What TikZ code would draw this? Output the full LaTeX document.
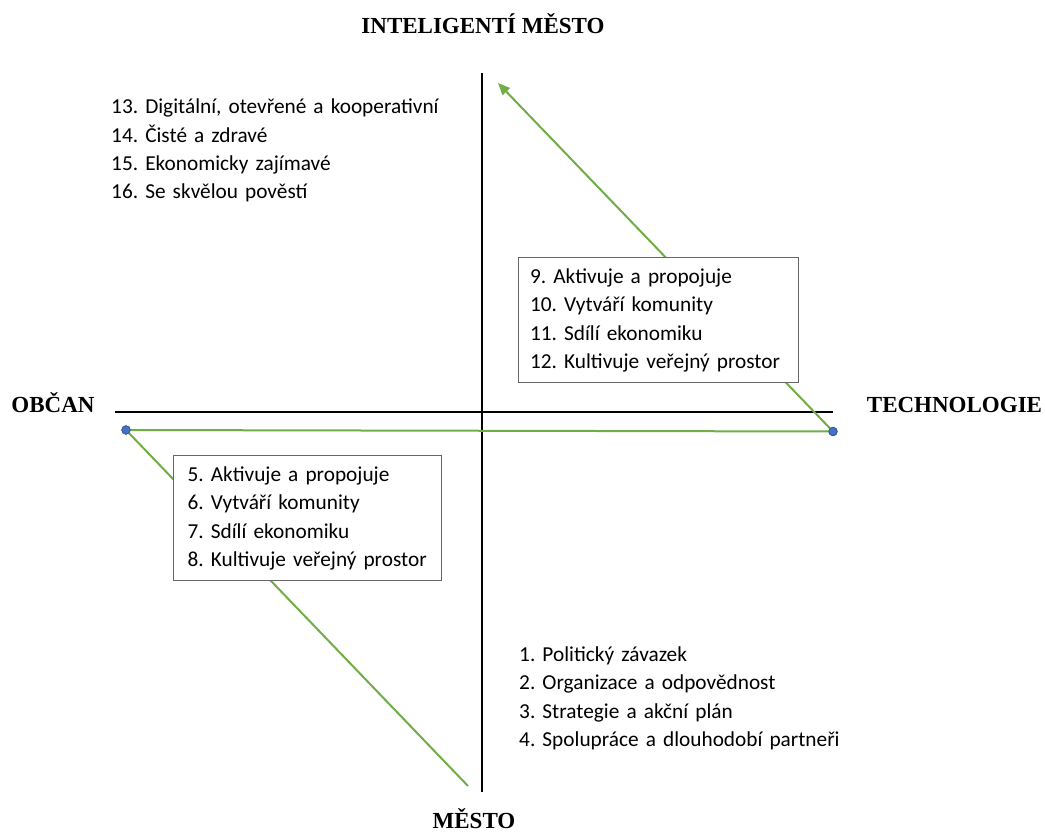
\documentclass[tikz,border=0pt]{standalone}
\usepackage{fontspec}
\setmainfont{Carlito}
\newfontfamily\axisfont{Liberation Serif}
\usetikzlibrary{arrows.meta}
\definecolor{flowgreen}{HTML}{70AD47}
\definecolor{dotblue}{HTML}{4472C4}
\definecolor{dotedge}{HTML}{2F528F}
\definecolor{boxgray}{HTML}{666666}
\frenchspacing

\begin{document}
\begin{tikzpicture}
    [x=1pt,y=-1pt,
    item/.style={font=\fontsize{21.3}{28.3}\selectfont,align=left,inner sep=0pt,anchor=base west},
    listbox/.style={item,draw=boxgray,fill=white,line width=1.2pt,inner ysep=6pt,anchor=north west},
    axislabel/.style={font=\axisfont\bfseries\fontsize{23}{28}\selectfont,inner sep=0pt,anchor=base},
    dot/.style={circle,fill=dotblue,draw=dotedge,line width=0.6pt,inner sep=0pt,minimum size=8.5pt},
    flow/.style={draw=flowgreen,line width=2pt}]
    \useasboundingbox (0,0) rectangle (1045,832);
    % axes
    \coordinate (top) at (482,73);
    \coordinate (bot) at (482,792);
    \coordinate (lft) at (115,411.5);
    \coordinate (rgt) at (833,411.5);
    \draw[line width=2pt] (top) -- (bot);
    \draw[line width=2pt] (lft) -- (rgt);
    \node[axislabel] (smart) at (483,33.5) {INTELIGENTÍ MĚSTO};
    \node[axislabel] (citizen) at (53,412) {OBČAN};
    \node[axislabel] (tech) at (954.5,412) {TECHNOLOGIE};
    \node[axislabel] (city) at (474,828) {MĚSTO};
    % green path
    \coordinate (start) at (468,786);
    \coordinate (tip) at (498,83);
    \node[dot] (ldot) at (126,430) {};
    \node[dot] (rdot) at (833,431.5) {};
    \draw[flow,-{Triangle[length=12pt,width=10pt]}] (start) -- (ldot.center)
      -- (rdot.center) -- (tip);
    \node[dot] at (ldot) {};
    \node[dot] at (rdot) {};
    % lists
    \node[item,text width=340] (goals) at (111,114) {13. Digitální, otevřené a kooperativní\\
      14. Čisté a zdravé\\ 15. Ekonomicky zajímavé\\ 16. Se skvělou pověstí};
    \node[item,text width=340] (basics) at (519,661.5) {1. Politický závazek\\
      2. Organizace a odpovědnost\\ 3. Strategie a akční plán\\
      4. Spolupráce a dlouhodobí partneři};
    \node[listbox,text width=256.5,inner xsep=12] (techbox) at (517.5,257) {\strut 9. Aktivuje a propojuje\\
      10. Vytváří komunity\\ 11. Sdílí ekonomiku\\ 12. Kultivuje veřejný prostor\strut};
    \node[listbox,text width=240,inner xsep=14] (citbox) at (173,455) {\strut 5. Aktivuje a propojuje\\
      6. Vytváří komunity\\ 7. Sdílí ekonomiku\\ 8. Kultivuje veřejný prostor\strut};
\end{tikzpicture}
\end{document}
